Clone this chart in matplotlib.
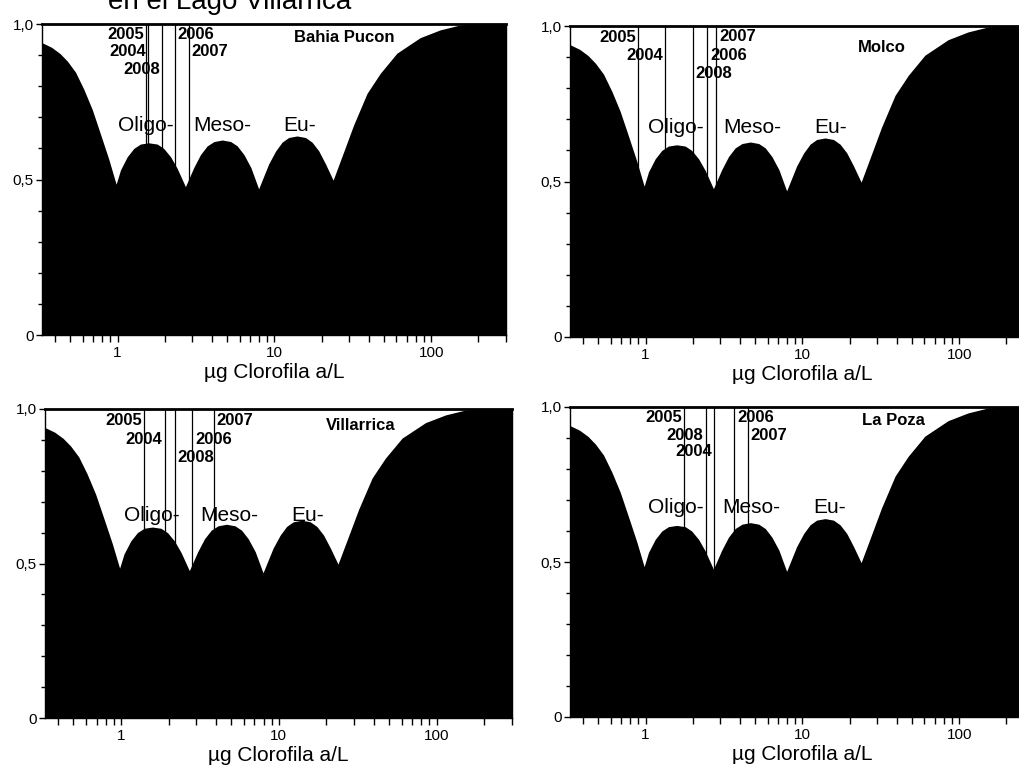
import numpy as np
import matplotlib
matplotlib.use("Agg")
import matplotlib.pyplot as plt
from matplotlib.ticker import LogLocator, FixedLocator, FixedFormatter, NullFormatter, MultipleLocator

plt.rcParams['font.family'] = ['Liberation Sans', 'DejaVu Sans']

# ---- data ----
chl = [0.33, 0.38, 0.43, 0.48, 0.54, 0.61, 0.69, 0.78, 0.88, 0.98,
       1.045, 1.153, 1.27, 1.40, 1.58, 1.79, 1.97, 2.18, 2.40, 2.71,
       3.06, 3.38, 3.73, 4.12, 4.66, 5.27, 5.80, 6.40, 7.09, 7.94,
       9.2, 10.2, 11.2, 12.33, 13.96, 15.8, 17.4, 19.2, 21.2, 23.7,
       28, 32, 39, 47.3, 60.4, 85, 114, 153, 200, 300]
prob = [0.94, 0.925, 0.905, 0.88, 0.845, 0.79, 0.725, 0.645, 0.565, 0.485,
        0.531, 0.573, 0.60, 0.614, 0.618, 0.614, 0.60, 0.573, 0.536, 0.477,
        0.538, 0.58, 0.608, 0.622, 0.627, 0.622, 0.608, 0.58, 0.538, 0.47,
        0.55, 0.592, 0.62, 0.635, 0.64, 0.635, 0.62, 0.592, 0.55, 0.498,
        0.596, 0.675, 0.777, 0.841, 0.906, 0.956, 0.981, 0.997, 1.0, 1.0]

sites = ["Bahia Pucon", "Molco", "Villarrica", "La Poza"]
years = ["2005", "2004", "2008", "2006", "2007"]
year_chl = {
    "Bahia Pucon": [1.52, 1.57, 1.93, 2.32, 2.85],
    "Molco":       [0.90, 1.33, 2.00, 2.48, 2.82],
    "Villarrica":  [1.40, 1.89, 2.19, 2.83, 3.87],
    "La Poza":     [1.76, 2.74, 2.42, 3.68, 4.49],
}
trophic = ["Oligo-", "Meso-", "Eu-"]
xlabel = "µg Clorofila a/L"
title = "en el Lago Villarrica"

# ---- layout ----
W, H = 1019, 769
ax_px = {  # left, top, right, bottom in pixels
    "Bahia Pucon": (42, 24, 506, 335),
    "Molco":       (570, 26, 1034, 337),
    "Villarrica":  (45, 409, 512, 718),
    "La Poza":     (570, 407, 1034, 717),
}
# label placement: (side, y) per year in order of `years`
label_layout = {
    "Bahia Pucon": [("L", 0.965), ("L", 0.91), ("L", 0.855), ("R", 0.965), ("R", 0.912)],
    "Molco":       [("L", 0.963), ("L", 0.904), ("R", 0.846), ("R", 0.904), ("R", 0.966)],
    "Villarrica":  [("L", 0.962), ("L", 0.902), ("R", 0.843), ("R", 0.902), ("R", 0.962)],
    "La Poza":     [("L", 0.966), ("L", 0.858), ("L", 0.907), ("R", 0.966), ("R", 0.907)],
}
site_pos = {"Bahia Pucon": (27.9, 0.955), "Molco": (32, 0.932),
            "Villarrica": (33, 0.948), "La Poza": (38, 0.955)}
troph_pos = {"Bahia Pucon": ([1.0, 3.05, 11.4], 0.655),
             "Molco": ([1.03, 3.12, 11.9], 0.655),
             "Villarrica": ([1.05, 3.17, 11.9], 0.638),
             "La Poza": ([1.03, 3.1, 11.7], 0.657)}

fig = plt.figure(figsize=(W / 100, H / 100), dpi=100)
fig.patch.set_facecolor("white")

for site in sites:
    l, t, r, b = ax_px[site]
    ax = fig.add_axes([l / W, 1 - b / H, (r - l) / W, (b - t) / H])
    ax.set_xscale("log")
    ax.set_xlim(0.33, 300)
    ax.set_ylim(0, 1.0)
    ax.fill_between(chl, 0, prob, color="black", linewidth=0, zorder=2)
    for yr, xv, (side, ly) in zip(years, year_chl[site], label_layout[site]):
        ax.plot([xv, xv], [0, 1], color="black", lw=0.9, zorder=1)
        if side == "L":
            ax.annotate(yr, (xv, ly), xytext=(-1.5, 0), textcoords="offset points",
                        ha="right", va="center", fontsize=12, fontweight="bold", zorder=3)
        else:
            ax.annotate(yr, (xv, ly), xytext=(2, 0), textcoords="offset points",
                        ha="left", va="center", fontsize=12, fontweight="bold", zorder=3)
    sx, sy = site_pos[site]
    ax.text(sx, sy, site, ha="center", va="center", fontsize=12, fontweight="bold", zorder=3)
    txs, ty = troph_pos[site]
    for name, tx in zip(trophic, txs):
        ax.text(tx, ty, name, ha="left", va="baseline", fontsize=15, zorder=3)

    ax.yaxis.set_major_locator(FixedLocator([0, 0.5, 1.0]))
    ax.yaxis.set_major_formatter(FixedFormatter(["0", "0,5", "1,0"]))
    ax.yaxis.set_minor_locator(MultipleLocator(0.1))
    ax.xaxis.set_major_locator(FixedLocator([1, 10, 100]))
    ax.xaxis.set_major_formatter(FixedFormatter(["1", "10", "100"]))
    ax.xaxis.set_minor_locator(LogLocator(base=10, subs=np.arange(2, 10), numticks=20))
    ax.xaxis.set_minor_formatter(NullFormatter())
    ax.tick_params(axis="both", which="major", direction="out", length=4, width=1,
                   labelsize=11, pad=2, color="black")
    ax.tick_params(axis="both", which="minor", direction="out", length=3, width=1, color="black")
    ax.tick_params(axis="x", which="both", length=5)
    ax.tick_params(axis="x", which="major", pad=3)
    for s in ["left", "bottom", "right"]:
        ax.spines[s].set_linewidth(1.0)
    ax.spines["top"].set_linewidth(2.0)
    ax.set_xlabel(xlabel, fontsize=15, labelpad=2)

fig.text(108 / W, 1 - 9 / H, title, fontsize=20, ha="left", va="baseline")

fig.savefig("out.png", dpi=100, facecolor="white")
